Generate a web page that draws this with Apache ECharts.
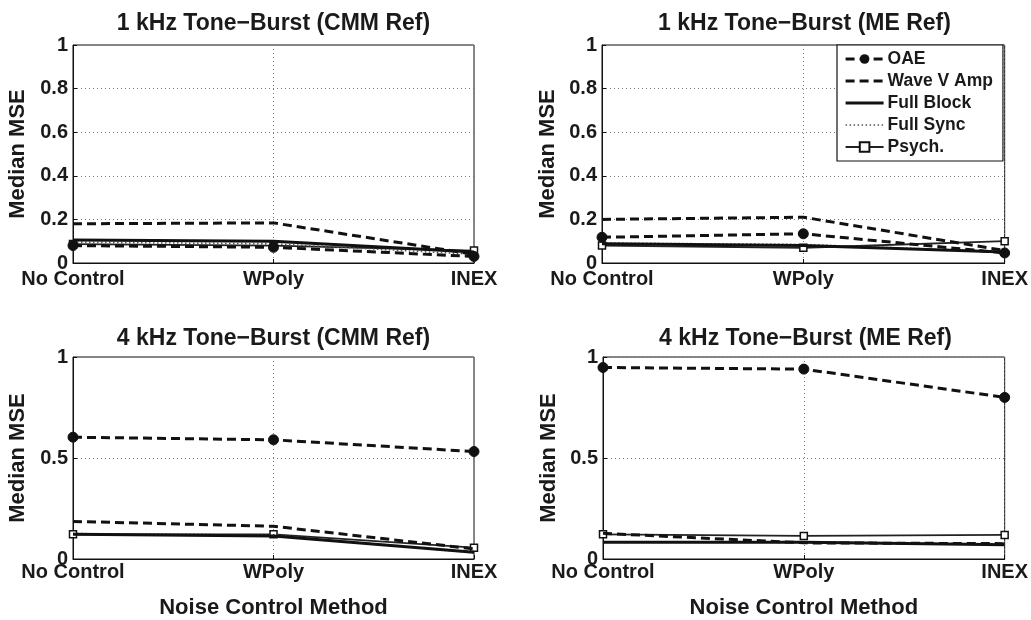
<!DOCTYPE html>
<html>
<head>
<meta charset="utf-8">
<script src="https://cdn.jsdelivr.net/npm/echarts@6/dist/echarts.min.js"></script>
<style>
html,body{margin:0;padding:0;background:#fff;}
#c{width:1031px;height:620px;}
</style>
</head>
<body>
<div id="c"></div>
<script>
// ---- data ----
const categories = ['No Control', 'WPoly', 'INEX'];
const seriesNames = ['OAE', 'Wave V Amp', 'Full Block', 'Full Sync', 'Psych.'];
const panelTitles = [
  '1 kHz Tone\u2212Burst (CMM Ref)',
  '1 kHz Tone\u2212Burst (ME Ref)',
  '4 kHz Tone\u2212Burst (CMM Ref)',
  '4 kHz Tone\u2212Burst (ME Ref)'
];
const yTicksTop = [0, 0.2, 0.4, 0.6, 0.8, 1];
const yTicksBottom = [0, 0.5, 1];

// 1 kHz, CMM reference
const oae1kCMM   = [0.080, 0.072, 0.030];
const waveV1kCMM = [0.180, 0.184, 0.040];
const block1kCMM = [0.105, 0.100, 0.050];
const sync1kCMM  = [0.095, 0.088, 0.040];
const psych1kCMM = [0.087, 0.080, 0.057];

// 1 kHz, ME reference
const oae1kME   = [0.118, 0.134, 0.046];
const waveV1kME = [0.200, 0.210, 0.057];
const block1kME = [0.088, 0.080, 0.050];
const sync1kME  = [0.092, 0.085, 0.052];
const psych1kME = [0.080, 0.070, 0.100];

// 4 kHz, CMM reference
const oae4kCMM   = [0.603, 0.590, 0.532];
const waveV4kCMM = [0.186, 0.162, 0.050];
const block4kCMM = [0.122, 0.114, 0.033];
const sync4kCMM  = [0.126, 0.120, 0.030];
const psych4kCMM = [0.122, 0.122, 0.056];

// 4 kHz, ME reference
const oae4kME   = [0.948, 0.940, 0.800];
const waveV4kME = [0.127, 0.080, 0.076];
const block4kME = [0.083, 0.083, 0.071];
const sync4kME  = [0.086, 0.086, 0.073];
const psych4kME = [0.122, 0.114, 0.119];

const panelData = [
  [oae1kCMM, waveV1kCMM, block1kCMM, sync1kCMM, psych1kCMM],
  [oae1kME, waveV1kME, block1kME, sync1kME, psych1kME],
  [oae4kCMM, waveV4kCMM, block4kCMM, sync4kCMM, psych4kCMM],
  [oae4kME, waveV4kME, block4kME, sync4kME, psych4kME]
];

// ---- layout / styles ----
const FONT = 'Liberation Sans, Arial, Helvetica, sans-serif';
const TXT = '#1a1a1a';
const grids = [
  {left: 73,  top: 45,  width: 401, height: 218},
  {left: 602, top: 45,  width: 405, height: 218},
  {left: 73,  top: 357, width: 401, height: 210},
  {left: 603, top: 357, width: 405, height: 210}
];

const styleOf = [
  {lineStyle: {type: [9, 5], width: 3, color: '#111'}, symbol: 'circle', symbolSize: 10,
   itemStyle: {color: '#111', borderColor: '#111'}},
  {lineStyle: {type: [9, 5], width: 3, color: '#111'}, symbol: 'none', itemStyle: {color: '#111'}},
  {lineStyle: {type: 'solid', width: 3, color: '#111'}, symbol: 'none', itemStyle: {color: '#111'}},
  {lineStyle: {type: [1.5, 2.5], width: 1.5, color: '#555'}, symbol: 'none', itemStyle: {color: '#555'}},
  {lineStyle: {type: 'solid', width: 1.8, color: '#222'}, symbol: 'rect', symbolSize: 7,
   itemStyle: {color: '#fff', borderColor: '#111', borderWidth: 1.5}}
];
const hideLegendSymbol = [false, true, true, true, false];
const legendLineWidth = [3, 3, 3.2, 1.5, 2];

const option = {
  animation: false,
  backgroundColor: '#fff',
  textStyle: {fontFamily: FONT},
  title: panelTitles.map((t, i) => ({
    text: t,
    left: grids[i].left + grids[i].width / 2,
    top: i < 2 ? 12 : 327,
    textAlign: 'center',
    padding: 0,
    textStyle: {fontSize: 23, fontWeight: 'bold', color: TXT, fontFamily: FONT}
  })),
  legend: {
    data: seriesNames.map((n, k) => {
      const d = {name: n, lineStyle: {width: legendLineWidth[k]}};
      if (hideLegendSymbol[k]) d.itemStyle = {opacity: 0};
      return d;
    }),
    orient: 'vertical',
    left: 837,
    top: 45,
    padding: [4, 10, 4, 7],
    itemGap: 2,
    itemWidth: 38,
    itemHeight: 12,
    backgroundColor: '#fff',
    borderColor: '#111',
    borderWidth: 1.2,
    textStyle: {fontSize: 17.5, fontWeight: 'bold', color: TXT, fontFamily: FONT, lineHeight: 20, padding: [0, 0, 0, -1]},
    z: 20
  },
  grid: grids.map(g => Object.assign({show: true, borderColor: '#111', borderWidth: 1, backgroundColor: 'transparent', containLabel: false}, g)),
  xAxis: grids.map((g, i) => ({
    type: 'category',
    gridIndex: i,
    data: categories,
    boundaryGap: false,
    name: i >= 2 ? 'Noise Control Method' : '',
    nameLocation: 'middle',
    nameGap: 38,
    nameTextStyle: {fontSize: 22, fontWeight: 'bold', color: TXT, fontFamily: FONT},
    axisLine: {show: true, lineStyle: {color: '#111', width: 1}},
    axisTick: {show: true, inside: true, length: 4, alignWithLabel: true, lineStyle: {color: '#111'}},
    axisLabel: {fontSize: 20, fontWeight: 'bold', color: TXT, fontFamily: FONT, margin: i < 2 ? 6 : 3},
    splitLine: {show: true, lineStyle: {type: [1, 3], color: '#777', width: 1}}
  })),
  yAxis: grids.map((g, i) => ({
    type: 'value',
    gridIndex: i,
    min: 0,
    max: 1,
    interval: i < 2 ? yTicksTop[1] - yTicksTop[0] : yTicksBottom[1] - yTicksBottom[0],
    name: 'Median MSE',
    nameLocation: 'middle',
    nameRotate: 90,
    nameGap: (i % 2 === 0) ? 44 : 43,
    nameTextStyle: {fontSize: 22, fontWeight: 'bold', color: TXT, fontFamily: FONT},
    axisLine: {show: true, lineStyle: {color: '#111', width: 1}},
    axisTick: {show: true, inside: true, length: 4, lineStyle: {color: '#111'}},
    axisLabel: {fontSize: 20, fontWeight: 'bold', color: TXT, fontFamily: FONT, margin: 5},
    splitLine: {show: true, lineStyle: {type: [1, 3], color: '#777', width: 1}}
  })),
  series: []
};

panelData.forEach((arrs, p) => {
  arrs.forEach((vals, s) => {
    option.series.push(Object.assign({
      name: seriesNames[s],
      type: 'line',
      xAxisIndex: p,
      yAxisIndex: p,
      data: vals,
      clip: false,
      z: 5 - s + 2,
      emphasis: {disabled: true}
    }, JSON.parse(JSON.stringify(styleOf[s]))));
  });
});

const chart = echarts.init(document.getElementById('c'), null, {renderer: 'canvas'});
chart.setOption(option);
</script>
</body>
</html>
